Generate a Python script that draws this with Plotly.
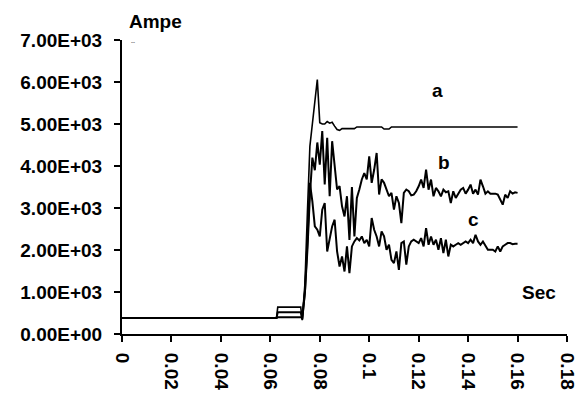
import plotly.graph_objects as go

# ---- time samples (s) ----
t_pre = [0.0, 0.0625, 0.063, 0.0723, 0.0729]
t_main = [round(0.074 + 0.001 * k, 3) for k in range(87)]  # 0.074 .. 0.160
time = t_pre + t_main

# ---- series values (A) ----
a_pre = [380, 380, 640, 640, 330]
a_main = [1200, 2900, 4470, 5000, 5500, 6060, 5030, 5000, 5000, 5060,
          5020, 5040, 4950, 4870, 4850, 4890, 4890, 4890, 4890, 4890,
          4890, 4930, 4930, 4930, 4930, 4930, 4930, 4930, 4930, 4930,
          4930, 4930, 4880, 4880, 4880, 4930, 4930, 4930, 4930, 4930,
          4930, 4930, 4930, 4930, 4930, 4930, 4930, 4930, 4930, 4930,
          4930, 4930, 4930, 4930, 4930, 4930, 4930, 4930, 4930, 4930,
          4930, 4930, 4930, 4930, 4930, 4930, 4930, 4930, 4930, 4930,
          4930, 4930, 4930, 4930, 4930, 4930, 4930, 4930, 4930, 4930,
          4930, 4930, 4930, 4930, 4930, 4930, 4930]

b_pre = [380, 380, 520, 520, 350]
b_main = [1000, 2000, 3300, 4200, 3900,
          4560, 4030, 4830, 3560, 4670, 3280, 4590, 3990, 3440, 3520,
          3040, 2800, 3280, 2240, 3500, 2320, 3240, 3440, 3680, 3830,
          3680, 4230, 3600, 3910, 4310, 3320, 3680, 3600, 3440, 3280,
          3360, 2960, 3280, 3120, 2640, 3360, 3440,
          3400, 3300, 3318, 3398, 3517, 3676, 3477, 3915, 3437, 3676,
          3278, 3477, 3398, 3278, 3437, 3374, 3398, 3119, 3398, 3238,
          3342, 3437, 3477, 3342, 3437, 3557, 3342, 3437, 3318, 3676,
          3517, 3342, 3398, 3342, 3342, 3342, 3318, 3199, 3079, 3318,
          3238, 3398, 3342, 3374, 3360]

c_pre = [380, 380, 400, 400, 380]
c_main = [1000, 2200, 3600, 3158,
          2562, 2482, 2323, 2960, 3119, 1965, 2244, 2562, 2721, 1965,
          1607, 1846, 1488, 2085, 1448, 2085, 2204, 2283, 2228, 2323,
          2164, 2244, 2085, 2761, 2482, 2323, 2085, 2443, 2323, 2005,
          2125, 1766, 1687, 1965, 1528, 2164, 2204, 1650,
          2085, 2204, 2244, 2204, 2164, 2283, 2085, 2522, 2125, 2323,
          2125, 2244, 2005, 2283, 1925, 2244, 1846, 2125, 2085, 2125,
          2164, 2125, 2164, 2204, 2164, 2244, 2164, 2363, 2204, 2125,
          2204, 2085, 2005, 2005, 2005, 1965, 2085, 1965, 2085, 2125,
          2164, 2164, 2140, 2148, 2148]

series = {"a": a_pre + a_main, "b": b_pre + b_main, "c": c_pre + c_main}

y_tickvals = [0, 1000, 2000, 3000, 4000, 5000, 6000, 7000]
y_ticktext = ["0.00E+00", "1.00E+03", "2.00E+03", "3.00E+03",
              "4.00E+03", "5.00E+03", "6.00E+03", "7.00E+03"]
x_tickvals = [0, 0.02, 0.04, 0.06, 0.08, 0.1, 0.12, 0.14, 0.16, 0.18]
x_ticktext = ["0", "0.02", "0.04", "0.06", "0.08", "0.1", "0.12", "0.14", "0.16", "0.18"]

# label positions (data coords)
labels = [("a", 0.1275, 5800), ("b", 0.1302, 4080), ("c", 0.1423, 2730)]

FONT = "Liberation Sans, Arial, sans-serif"
FS = 19

fig = go.Figure()
for name, vals in series.items():
    fig.add_trace(go.Scatter(x=time, y=vals, mode="lines", name=name,
                             line=dict(color="black", width=2 if name != "a" else 1.6),
                             showlegend=False))

for txt, x, y in labels:
    fig.add_annotation(x=x, y=y, text=txt, showarrow=False,
                       font=dict(family=FONT, size=FS, color="black", weight="bold"))

fig.add_annotation(xref="paper", yref="paper", x=0.012, y=1.02, text="Ampe",
                   showarrow=False, xanchor="left", yanchor="bottom",
                   font=dict(family=FONT, size=FS, color="black", weight="bold"))
fig.add_annotation(x=0.1687, y=980, text="Sec", showarrow=False,
                   font=dict(family=FONT, size=FS, color="black", weight="bold"))
fig.add_annotation(x=0.0045, y=6950, text="--", showarrow=False,
                   font=dict(family=FONT, size=6, color="black"))

fig.update_xaxes(range=[0, 0.18], tickvals=x_tickvals, ticktext=x_ticktext,
                 tickangle=90, ticks="outside", ticklen=6, tickwidth=2,
                 tickcolor="black", showline=True, linecolor="black", linewidth=2,
                 showgrid=False, zeroline=False, ticklabelstandoff=7, automargin=False,
                 tickfont=dict(family=FONT, size=FS, color="black", weight="bold"))
fig.update_yaxes(range=[0, 7000], tickvals=y_tickvals, ticktext=y_ticktext,
                 ticks="outside", ticklen=6, tickwidth=2, tickcolor="black",
                 showline=True, linecolor="black", linewidth=2,
                 showgrid=False, zeroline=False, ticklabelstandoff=8, automargin=False,
                 tickfont=dict(family=FONT, size=FS, color="black", weight="bold"))

fig.update_layout(width=585, height=395, plot_bgcolor="white", paper_bgcolor="white",
                  margin=dict(l=122, r=18, t=40, b=61))

fig.write_html("out.html")
